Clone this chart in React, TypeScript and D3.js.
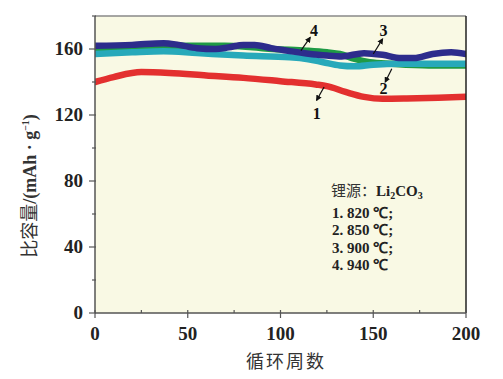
import React from "react";
import * as d3 from "d3";

const W = 503, H = 379;
const M = { left: 95, right: 466, top: 16, bottom: 313 };

const xTicks = [0, 50, 100, 150, 200];
const yTicks = [0, 40, 80, 120, 160];

const s1x = [0, 10, 25, 40, 60, 80, 100, 119, 125, 135, 145, 155, 168, 185, 200];
const s1y = [140, 143, 146, 145.5, 144, 142.5, 140.5, 138.5, 137.5, 134, 131, 129.8, 130, 130.5, 131];
const s2x = [0, 20, 37, 55, 80, 105, 115, 123, 132, 140, 150, 165, 200];
const s2y = [157, 158, 158.6, 157.5, 156, 155, 153.8, 152, 150, 149.5, 150.5, 151, 151];
const s3x = [0, 20, 37, 45, 55, 65, 72, 80, 86, 95, 105, 114, 125, 133, 145, 155, 165, 172, 182, 192, 200];
const s3y = [162, 162.5, 163.5, 162.5, 160.5, 160, 161, 162.5, 162.5, 160.5, 158.7, 157.3, 156, 155.5, 157.5, 156.5, 154.5, 154.5, 157, 158, 157];
const s4x = [0, 30, 50, 70, 85, 96, 114, 125, 132, 140, 148, 160, 180, 200];
const s4y = [160, 161, 162, 162, 161, 160, 159, 158, 157, 154, 152, 151, 150, 150];

const labelNums = ["1", "2", "3", "4"];
const legendTitle = "锂源：";
const legendLines = ["1. 820 ℃;", "2. 850 ℃;", "3. 900 ℃;", "4. 940 ℃"];

const colors = ["#e3302f", "#27a9ba", "#2d2c8c", "#1f9a45"];

export default function App() {
  const x = d3.scaleLinear().domain([0, 200]).range([M.left, M.right]);
  const y = d3.scaleLinear().domain([0, 180]).range([M.bottom, M.top]);
  const line = d3
    .line<[number, number]>()
    .x((d) => x(d[0]))
    .y((d) => y(d[1]))
    .curve(d3.curveMonotoneX);
  const zip = (a: number[], b: number[]) => a.map((v, i) => [v, b[i]] as [number, number]);
  const series = [
    { d: zip(s1x, s1y), c: colors[0] },
    { d: zip(s4x, s4y), c: colors[3] },
    { d: zip(s2x, s2y), c: colors[1] },
    { d: zip(s3x, s3y), c: colors[2] },
  ];
  const serif = "'Liberation Serif', 'Times New Roman', serif";
  const cjk = "'Noto Sans CJK SC', sans-serif";
  const axisColor = "#555";
  const titleColor = "#333";

  const xMinor = d3.range(0, 201, 25);
  const yMinor = d3.range(0, 181, 20);

  const arrows = [
    { tail: [123.5, 137], head: [119.5, 129], label: labelNums[0], lx: 119.5, ly: 120 },
    { tail: [160, 148], head: [156.5, 140], label: labelNums[1], lx: 155.5, ly: 135 },
    { tail: [150, 157], head: [155, 166], label: labelNums[2], lx: 155.5, ly: 170 },
    { tail: [111, 159], head: [116, 167], label: labelNums[3], lx: 118, ly: 170 },
  ];

  return (
    <svg width={W} height={H} style={{ position: "absolute", left: 0, top: 0, background: "#fff", WebkitFontSmoothing: "antialiased" }}>
      <defs>
        <marker id="ah" viewBox="0 0 10 10" refX="8" refY="5" markerWidth="5" markerHeight="5" orient="auto">
          <path d="M0,0 L10,5 L0,10 z" fill="#111" />
        </marker>
        <clipPath id="clip">
          <rect x={M.left} y={M.top} width={M.right - M.left} height={M.bottom - M.top} />
        </clipPath>
      </defs>
      <rect x={M.left} y={M.top} width={M.right - M.left} height={M.bottom - M.top} fill="#f9f9e4" />
      <g clipPath="url(#clip)">
        {series.map((s, i) => (
          <path key={i} d={line(s.d) || ""} fill="none" stroke={s.c} strokeWidth={6.5} strokeLinecap="round" />
        ))}
      </g>
      <line x1={M.left} x2={M.right} y1={M.top} y2={M.top} stroke="#888" strokeWidth={1.5} />
      <line x1={M.right} x2={M.right} y1={M.top} y2={M.bottom} stroke="#222" strokeWidth={1.5} />
      <line x1={M.left} x2={M.left} y1={M.top} y2={M.bottom} stroke={axisColor} strokeWidth={1.5} />
      <line x1={M.left} x2={M.right} y1={M.bottom} y2={M.bottom} stroke={axisColor} strokeWidth={1.5} />
      {xMinor.map((t) => (
        <line key={"xm" + t} x1={x(t)} x2={x(t)} y1={M.bottom - 3}
          y2={t % 50 === 0 ? M.bottom + 5 : M.bottom} stroke={axisColor} strokeWidth={1.2} />
      ))}
      {xTicks.map((t) => (
        <text key={"xt" + t} x={x(t)} y={340} textAnchor="middle" fontFamily={serif} fontWeight="bold" fontSize={19} fill="#222">
          {t}
        </text>
      ))}
      {yMinor.map((t) => (
        <line key={"ym" + t} y1={y(t)} y2={y(t)} x1={t % 40 === 0 ? M.left - 6 : M.left - 3}
          x2={M.left + 1} stroke={axisColor} strokeWidth={1.2} />
      ))}
      {yTicks.map((t) => (
        <text key={"yt" + t} x={83} y={y(t) + 6} textAnchor="end" fontFamily={serif} fontWeight="bold" fontSize={19} fill="#222">
          {t}
        </text>
      ))}
      <text x={286} y={368} textAnchor="middle" fontFamily={cjk} fontSize={18} fill={titleColor} letterSpacing={2}>
        循环周数
      </text>
      <g transform="translate(36,186) rotate(-90)">
        <text textAnchor="middle" style={{ fill: titleColor }}>
          <tspan fontFamily={cjk} fontSize={18} style={{ fill: titleColor }}>比容量</tspan>
          <tspan fontFamily={serif} fontSize={18} fontWeight="bold" style={{ fill: titleColor }}>/(mAh · g</tspan>
          <tspan fontFamily={serif} fontSize={10} fontWeight="bold" dy={-7} style={{ fill: titleColor }}>−1</tspan>
          <tspan fontFamily={serif} fontSize={18} fontWeight="bold" dy={7} style={{ fill: titleColor }}>)</tspan>
        </text>
      </g>
      {arrows.map((a, i) => (
        <g key={"a" + i}>
          <line x1={x(a.tail[0])} y1={y(a.tail[1])} x2={x(a.head[0])} y2={y(a.head[1])}
            stroke="#111" strokeWidth={1.2} markerEnd="url(#ah)" />
          <text x={x(a.lx)} y={y(a.ly)} textAnchor="middle" dominantBaseline="middle"
            fontFamily={serif} fontWeight="bold" fontSize={16} fill="#111">
            {a.label}
          </text>
        </g>
      ))}
      <text x={331} y={196} fontSize={15} fill="#222">
        <tspan fontFamily={cjk} fill="#333">{legendTitle}</tspan>
        <tspan fontFamily={serif} fontWeight="bold">Li</tspan>
        <tspan fontFamily={serif} fontWeight="bold" fontSize={10} dy={3}>2</tspan>
        <tspan fontFamily={serif} fontWeight="bold" dy={-3}>CO</tspan>
        <tspan fontFamily={serif} fontWeight="bold" fontSize={10} dy={3}>3</tspan>
      </text>
      {legendLines.map((l, i) => (
        <text key={"l" + i} x={332} y={218 + i * 17.3} fontSize={15} fontFamily={serif} fontWeight="bold" fill="#222">
          {l}
        </text>
      ))}
    </svg>
  );
}
